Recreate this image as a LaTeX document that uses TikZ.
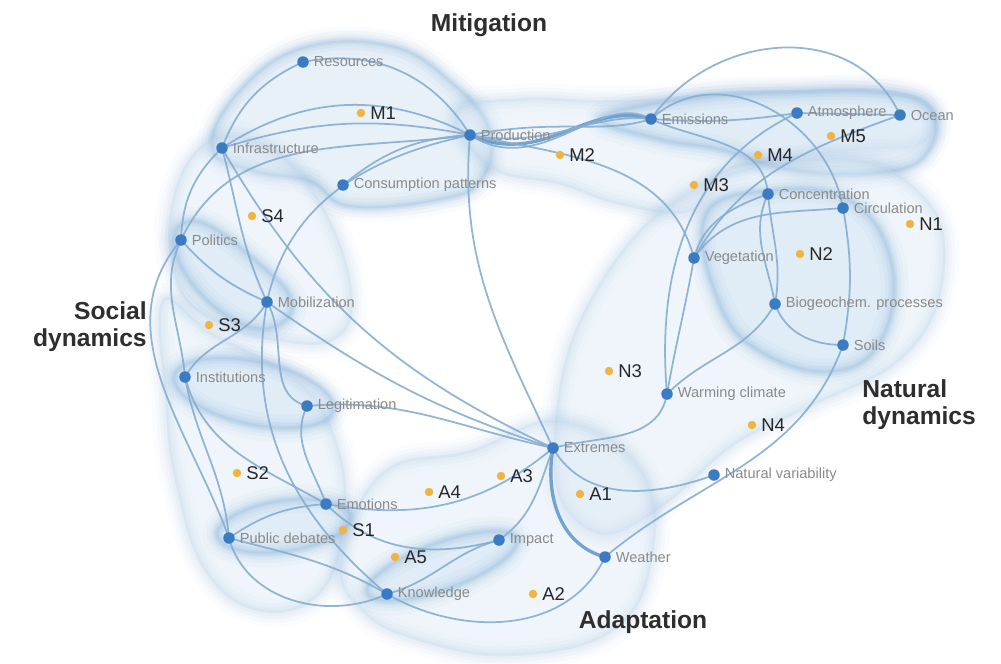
\documentclass[tikz,border=0pt]{standalone}
\usepackage{fontspec}
\setmainfont{Liberation Sans}
\definecolor{dotblue}{HTML}{3A7BC2}
\definecolor{dotorange}{HTML}{F0B443}
\definecolor{edgeblue}{HTML}{86ADD1}
\definecolor{edgedark}{HTML}{5F95C8}
\definecolor{blobfill}{HTML}{D3E4F3}
\definecolor{blobedge}{HTML}{5E98CE}
\definecolor{lblgray}{HTML}{8A8A8A}
\definecolor{titlegray}{HTML}{2E2E2E}
\pgfdeclarelayer{paper}
\pgfdeclarelayer{blobs}
\pgfdeclarelayer{edges}
\pgfsetlayers{paper,blobs,edges,main}
\newcommand\softblob[2][]{%
  \fill[blobfill,opacity=.35,#1] #2;
  \draw[blobedge,line width=16pt,opacity=.02,#1] #2;
  \draw[blobedge,line width=11pt,opacity=.03,#1] #2;
  \draw[blobedge,line width=7pt,opacity=.04,#1] #2;
  \draw[blobedge,line width=3.5pt,opacity=.05,#1] #2;}
\newcommand\strongblob[2][]{%
  \fill[blobfill,opacity=.5,#1] #2;
  \draw[blobedge,line width=16pt,opacity=.03,#1] #2;
  \draw[blobedge,line width=11pt,opacity=.05,#1] #2;
  \draw[blobedge,line width=7pt,opacity=.07,#1] #2;
  \draw[blobedge,line width=4pt,opacity=.09,#1] #2;
  \draw[blobedge,line width=2pt,opacity=.11,#1] #2;}
\tikzset{
  bn/.style={circle,fill=dotblue,inner sep=0pt,minimum size=0.23cm},
  on/.style={circle,fill=dotorange,inner sep=0pt,minimum size=0.17cm},
  bl/.style={font=\fontsize{8.3}{9}\selectfont,text=lblgray,inner sep=1pt},
  ol/.style={font=\fontsize{10.5}{12}\selectfont,text=black!85,inner sep=1pt},
  ttl/.style={font=\fontsize{14}{15.5}\selectfont\bfseries,text=titlegray,inner sep=0pt},
  ed/.style={draw=edgeblue,line width=1pt,opacity=.9},
  edthick/.style={draw=edgedark,line width=1.9pt,opacity=.85},
  label distance=1.5pt
}
\begin{document}
\begin{tikzpicture}[x=0.02cm,y=-0.02cm]
\useasboundingbox (0,0) rectangle (1001,663);
\begin{pgfonlayer}{paper}
\fill[white] (0,0) rectangle (1001,663);
\end{pgfonlayer}

% ---------- titles ----------
\node[ttl] (tmit) at (489,25) {Mitigation};
\node[ttl,anchor=east,align=right] (tsoc) at (147,327) {Social\\dynamics};
\node[ttl,anchor=west,align=left] (tnat) at (862,405) {Natural\\dynamics};
\node[ttl] (tada) at (643,622) {Adaptation};

% ---------- blue nodes ----------
\node[bn,label={[bl]right:Resources}] (res) at (303,62) {};
\node[bn,label={[bl]right:Infrastructure}] (infra) at (222,148) {};
\node[bn,label={[bl]right:Production}] (prod) at (470,135) {};
\node[bn,label={[bl]right:Consumption patterns}] (cons) at (343,185) {};
\node[bn,label={[bl]right:Emissions}] (emis) at (651,119) {};
\node[bn,label={[bl]right:Atmosphere}] (atm) at (797,113) {};
\node[bn,label={[bl]right:Ocean}] (ocean) at (900,115) {};
\node[bn,label={[bl]right:Concentration}] (conc) at (768,194) {};
\node[bn,label={[bl]right:Circulation}] (circ) at (843,208) {};
\node[bn,label={[bl]right:Vegetation}] (veg) at (694,258) {};
\node[bn,label={[bl]right:Biogeochem. processes}] (bio) at (775,304) {};
\node[bn,label={[bl]right:Soils}] (soils) at (843,345) {};
\node[bn,label={[bl]right:Warming climate}] (wc) at (667,394) {};
\node[bn,label={[bl]right:Natural variability}] (nv) at (714,475) {};
\node[bn,label={[bl]right:Extremes}] (ext) at (553,448) {};
\node[bn,label={[bl]right:Weather}] (weather) at (605,557) {};
\node[bn,label={[bl]right:Impact}] (imp) at (499,540) {};
\node[bn,label={[bl]right:Knowledge}] (know) at (387,594) {};
\node[bn,label={[bl]right:Emotions}] (emo) at (326,504) {};
\node[bn,label={[bl]right:Public debates}] (pub) at (229,538) {};
\node[bn,label={[bl]right:Legitimation}] (leg) at (307,406) {};
\node[bn,label={[bl]right:Institutions}] (inst) at (185,377) {};
\node[bn,label={[bl]right:Mobilization}] (mob) at (267,302) {};
\node[bn,label={[bl]right:Politics}] (pol) at (181,240) {};

% ---------- orange nodes ----------
\node[on,label={[ol]right:M1}] (m1) at (361,113) {};
\node[on,label={[ol]right:M2}] (m2) at (560,155) {};
\node[on,label={[ol]right:M3}] (m3) at (694,185) {};
\node[on,label={[ol]right:M4}] (m4) at (758,155) {};
\node[on,label={[ol]right:M5}] (m5) at (831,136) {};
\node[on,label={[ol]right:N1}] (n1) at (910,224) {};
\node[on,label={[ol]right:N2}] (n2) at (800,254) {};
\node[on,label={[ol]right:N3}] (n3) at (609,371) {};
\node[on,label={[ol]right:N4}] (n4) at (752,425) {};
\node[on,label={[ol]right:S1}] (s1) at (343,530) {};
\node[on,label={[ol]right:S2}] (s2) at (237,473) {};
\node[on,label={[ol]right:S3}] (s3) at (209,325) {};
\node[on,label={[ol]right:S4}] (s4) at (252,216) {};
\node[on,label={[ol]right:A1}] (a1) at (580,494) {};
\node[on,label={[ol]right:A2}] (a2) at (533,594) {};
\node[on,label={[ol]right:A3}] (a3) at (501,476) {};
\node[on,label={[ol]right:A4}] (a4) at (429,492) {};
\node[on,label={[ol]right:A5}] (a5) at (395,557) {};

% ---------- blobs ----------
\begin{pgfonlayer}{blobs}
% mitigation
\strongblob{plot[smooth cycle,tension=.7] coordinates {(212,150) (235,95) (300,48) (390,45) (452,82) (490,130) (482,180) (440,200) (350,207) (310,182) (255,172)}}
\softblob{plot[smooth cycle,tension=.7] coordinates {(455,112) (520,98) (600,100) (660,98) (720,92) (800,90) (890,90) (935,110) (920,145) (860,150) (780,160) (720,175) (690,212) (620,205) (560,185) (490,168)}}
\strongblob{plot[smooth cycle,tension=.7] coordinates {(600,118) (690,98) (790,92) (880,92) (930,108) (930,150) (890,172) (800,172) (720,150) (660,140)}}
% natural
\softblob{plot[smooth cycle,tension=.6] coordinates {(575,330) (630,240) (700,185) (790,160) (880,165) (940,220) (938,305) (895,365) (815,405) (735,445) (665,505) (605,535) (560,500) (555,420)}}
\strongblob{plot[smooth cycle,tension=.7] coordinates {(705,215) (770,190) (850,200) (892,262) (882,340) (832,372) (760,352) (718,302)}}
% social
\softblob{plot[smooth cycle,tension=.7] coordinates {(172,200) (210,140) (275,150) (325,210) (352,290) (338,338) (282,342) (215,322) (176,282)}}
\strongblob{plot[smooth cycle,tension=.7] coordinates {(174,236) (202,222) (258,262) (292,300) (276,327) (236,322) (190,282)}}
\softblob{plot[smooth cycle,tension=.7] coordinates {(162,300) (212,332) (300,382) (338,445) (345,520) (322,592) (262,612) (205,572) (175,482) (165,400)}}
\strongblob[rotate around={-12:(254,393)}]{(254,393) ellipse [x radius=82,y radius=32]}
\strongblob[rotate around={8:(284,526)}]{(284,526) ellipse [x radius=68,y radius=26]}
% adaptation
\softblob{plot[smooth cycle,tension=.7] coordinates {(340,560) (382,472) (470,450) (560,420) (642,470) (652,562) (612,632) (512,656) (422,642) (362,612)}}
\strongblob[rotate around={20:(442,566)}]{(442,566) ellipse [x radius=80,y radius=24]}
\end{pgfonlayer}

% ---------- connectors ----------
\begin{pgfonlayer}{edges}
% mitigation
\draw[ed] (res.center) to[bend left=35] (prod.center);
\draw[ed] (infra.center) to[bend left=22] (res.center);
\draw[ed] (infra.center) to[bend left=30] (prod.center);
\draw[ed] (infra.center) to[bend left=14] (prod.center);
\draw[ed] (cons.center) to[bend left=18] (prod.center);
\draw[ed] (pol.center) to[out=65,in=188] (prod.center);
\draw[ed] (mob.center) to[out=78,in=192] (prod.center);
\draw[ed] (pol.center) to[bend left=22] (infra.center);
\draw[ed] (infra.center) to[out=-75,in=115] (mob.center);
\draw[ed] (infra.center) to[out=-60,in=155] (ext.center);
\draw[ed] (mob.center) to[out=-35,in=162] (ext.center);
\draw[ed] (prod.center) to[out=-95,in=115] (ext.center);
\draw[edthick] (prod.center) .. controls (545,168) and (585,100) .. (emis.center);
\draw[ed] (prod.center) .. controls (550,150) and (590,112) .. (emis.center);
\draw[ed] (prod.center) .. controls (560,118) and (600,135) .. (emis.center);
\draw[ed] (prod.center) .. controls (540,180) and (600,90) .. (emis.center);
\draw[ed] (prod.center) to[out=-12,in=105] (veg.center);
\draw[ed] (emis.center) to[bend right=6] (atm.center);
\draw[ed] (atm.center) -- (ocean.center);
\draw[ed] (emis.center) to[out=55,in=115,looseness=1.1] (ocean.center);
\draw[ed] (emis.center) to[out=42,in=100,looseness=1.1] (circ.center);
\draw[ed] (emis.center) to[out=-25,in=95] (conc.center);
\draw[ed] (wc.center) to[out=95,in=205] (atm.center);
\draw[ed] (veg.center) to[out=60,in=200] (ocean.center);
% natural
\draw[ed] (conc.center) to[out=200,in=75] (veg.center);
\draw[ed] (circ.center) to[out=185,in=55] (veg.center);
\draw[ed] (conc.center) to[out=-115,in=100] (bio.center);
\draw[ed] (conc.center) to[out=-85,in=80] (bio.center);
\draw[ed] (veg.center) to[out=-100,in=80] (wc.center);
\draw[ed] (bio.center) to[out=-120,in=45] (wc.center);
\draw[ed] (bio.center) to[out=-70,in=180] (soils.center);
\draw[ed] (circ.center) to[out=-80,in=80] (soils.center);
\draw[ed] (soils.center) to[out=-110,in=40] (weather.center);
% adaptation
\draw[edthick] (ext.center) to[out=-100,in=165] (weather.center);
\draw[ed] (ext.center) to[out=15,in=-100] (wc.center);
\draw[ed] (ext.center) to[out=-60,in=200] (nv.center);
\draw[ed] (ext.center) to[out=-110,in=35] (imp.center);
\draw[ed] (emo.center) to[out=-10,in=-140] (ext.center);
\draw[ed] (leg.center) to[out=5,in=168] (ext.center);
\draw[ed] (imp.center) to[out=-165,in=15] (know.center);
\draw[ed] (emo.center) to[out=-45,in=195] (imp.center);
\draw[ed] (pub.center) to[out=-15,in=150] (know.center);
\draw[ed] (pub.center) to[out=-75,in=205] (know.center);
\draw[ed] (know.center) to[out=-30,in=-115] (weather.center);
% social
\draw[ed] (pol.center) to[bend right=12] (mob.center);
\draw[ed] (pol.center) to[out=-115,in=95] (inst.center);
\draw[ed] (pol.center) to[out=-130,in=110] (pub.center);
\draw[ed] (inst.center) to[out=-75,in=150] (emo.center);
\draw[ed] (inst.center) to[out=-80,in=95] (pub.center);
\draw[ed] (inst.center) to[out=60,in=-120] (mob.center);
\draw[ed] (mob.center) to[out=-60,in=165] (leg.center);
\draw[ed] (mob.center) to[out=-100,in=140] (know.center);
\draw[ed] (leg.center) to[out=-115,in=110] (emo.center);
\draw[ed] (emo.center) to[bend right=15] (pub.center);
\end{pgfonlayer}
\end{tikzpicture}
\end{document}
